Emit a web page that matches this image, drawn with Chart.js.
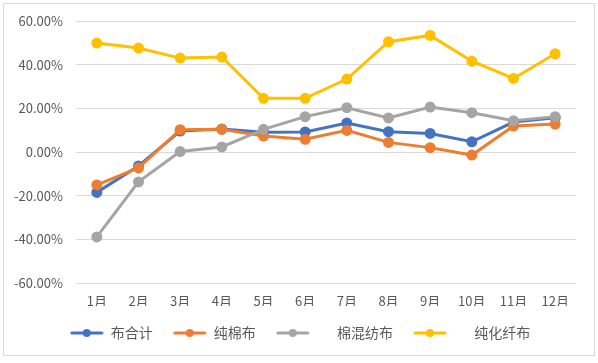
<!DOCTYPE html>
<html><head><meta charset="utf-8">
<script src="https://cdn.jsdelivr.net/npm/chart.js@4/dist/chart.umd.min.js"></script>
<style>html,body{margin:0;padding:0;background:#fff}#wrap{width:598px;height:363px;position:relative}</style>
</head><body><div id="wrap"><canvas id="c" width="598" height="363"></canvas></div>
<script>
const months = ['1月','2月','3月','4月','5月','6月','7月','8月','9月','10月','11月','12月'];
const seriesNames = ['布合计','纯棉布','棉混纺布','纯化纤布'];
const buTotal   = [-18.5, -6.4, 9.6, 10.5, 9.1, 9.2, 13.3, 9.3, 8.5, 4.7, 13.7, 15.7];
const pureCotton= [-15.1, -7.3, 10.2, 10.4, 7.3, 5.8, 9.9, 4.4, 2.0, -1.4, 11.9, 12.8];
const blended   = [-38.9, -13.7, 0.2, 2.3, 10.4, 16.2, 20.3, 15.6, 20.6, 18.0, 14.3, 16.2];
const synthetic = [49.9, 47.6, 43.0, 43.5, 24.6, 24.6, 33.4, 50.5, 53.4, 41.6, 33.7, 45.0];
const yTicks = [-60, -40, -20, 0, 20, 40, 60];

const colors = ['#4472C4','#ED7D31','#A5A5A5','#FFC000'];
const legendPrefix = ['', '', '\u3000  ', '\u3000  '];
const FONT = '"Noto Sans CJK SC", "Noto Sans", sans-serif';

function legendIcon(color){
  const cv = document.createElement('canvas');
  cv.width = 34; cv.height = 10;
  const g = cv.getContext('2d');
  g.strokeStyle = color; g.lineWidth = 3; g.lineCap = 'round';
  g.beginPath(); g.moveTo(2,5); g.lineTo(32,5); g.stroke();
  g.fillStyle = color; g.beginPath(); g.arc(17,5,4,0,Math.PI*2); g.fill();
  return cv;
}

const borderPlugin = {
  id:'outerBorder',
  afterLayout(chart){
    if (chart.legend) { chart.legend.left = 24; }
  },
  beforeDraw(chart){
    const ctx = chart.ctx; ctx.save();
    ctx.strokeStyle = '#d9d9d9'; ctx.lineWidth = 1;
    ctx.strokeRect(3.5, 3.5, 591, 352);
    ctx.restore();
  }
};

const dataSets = [buTotal, pureCotton, blended, synthetic];
new Chart(document.getElementById('c'), {
  type:'line',
  data:{
    labels: months,
    datasets: seriesNames.map((n,i)=>({
      label:n, data:dataSets[i], borderColor:colors[i], backgroundColor:colors[i],
      borderWidth:3, pointRadius:4, pointHoverRadius:4, pointBackgroundColor:colors[i],
      pointBorderColor:colors[i], tension:0, order: 4-i
    }))
  },
  options:{
    responsive:false, animation:false,
    layout:{padding:{left:0,right:22,top:21,bottom:13}},
    plugins:{
      tooltip:{enabled:false},
      legend:{
        position:'bottom',
        labels:{
          usePointStyle:true, pointStyleWidth:34, boxHeight:10, padding:20,
          color:'#595959', font:{family:FONT,size:14},
          sort:(a,b)=>a.datasetIndex-b.datasetIndex,
          generateLabels(chart){
            const items = Chart.defaults.plugins.legend.labels.generateLabels(chart);
            items.forEach((it)=>{ it.pointStyle = legendIcon(colors[it.datasetIndex]); it.text = legendPrefix[it.datasetIndex] + it.text; });
            return items;
          }
        }
      }
    },
    scales:{
      x:{
        offset:true,
        grid:{display:false}, border:{display:false},
        ticks:{color:'#595959', font:{family:FONT,size:13}, padding:2, maxRotation:0},
        afterFit(s){ s.height = 23; }
      },
      y:{
        min:-60, max:60,
        afterBuildTicks(s){ s.ticks = yTicks.map(v=>({value:v})); },
        grid:{color:'#d9d9d9', lineWidth:1, drawTicks:false}, border:{display:false},
        ticks:{color:'#595959', font:{family:FONT,size:13}, padding:13,
          callback:(v)=>v.toFixed(2)+'%'},
        afterFit(s){ s.width = 76; }
      }
    }
  },
  plugins:[borderPlugin]
});
</script></body></html>
